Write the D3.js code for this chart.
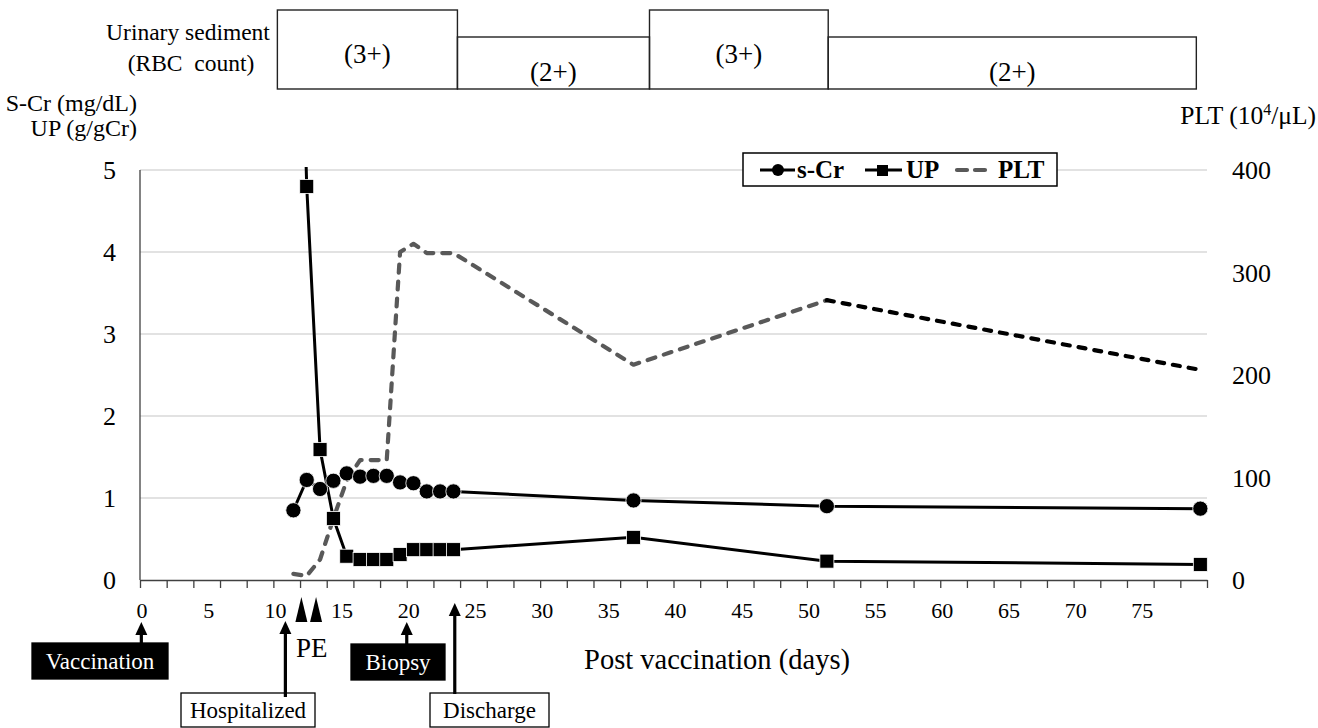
<!DOCTYPE html>
<html><head><meta charset="utf-8">
<script src="https://cdn.jsdelivr.net/npm/d3@7"></script>
<style>
body{margin:0;background:#fff}
svg{display:block}
text{font-family:"Liberation Serif","Times New Roman",serif;fill:#000}
</style>
</head><body>
<svg id="chart" width="1318" height="728"></svg>
<script>
// ---------------- data ----------------
const days   = [11.5,12.5,13.5,14.5,15.5,16.5,17.5,18.5,19.5,20.5,21.5,22.5,23.5,37,51.5,79.5];
const sCr    = [0.85,1.22,1.11,1.21,1.30,1.26,1.27,1.27,1.19,1.18,1.08,1.08,1.08,0.97,0.90,0.87];
const up     = [10.5,4.80,1.59,0.75,0.29,0.25,0.25,0.25,0.31,0.37,0.37,0.37,0.37,0.52,0.23,0.19];
const plt    = [6,4,20,60,97,117,117,117,320,328,319,319,319,210,273,205];

const leftTicks  = [0,1,2,3,4,5];
const rightTicks = [0,100,200,300,400];
const xLabelTicks = d3.range(0,76,5);
const xMinorTicks = d3.range(0,81,2);

const sedStart = [10.3,23.8,38.2,51.6];
const sedEnd   = [23.8,38.2,51.6,79.2];
const sedGrade = ["(3+)","(2+)","(3+)","(2+)"];

const eventNames = ["Vaccination","Hospitalized","Biopsy","Discharge"];
const eventDays  = [0.1,10.9,20.0,23.6];
const peDays     = [12.1,13.2];

// ---------------- layout ----------------
const svg = d3.select("#chart");
const X0 = 140, X1 = 1207, Y0 = 580, Y1 = 170;
const x  = d3.scaleLinear().domain([0,80]).range([X0,X1]);
const yL = d3.scaleLinear().domain([0,5]).range([Y0,Y1]);
const yR = d3.scaleLinear().domain([0,400]).range([Y0,Y1]);

// grid
svg.append("g").selectAll("line").data(leftTicks.filter(d=>d>0)).join("line")
  .attr("x1",X0).attr("x2",X1).attr("y1",d=>yL(d)).attr("y2",d=>yL(d))
  .attr("stroke","#d9d9d9").attr("stroke-width",1.3);

// left axis line
svg.append("line").attr("x1",X0).attr("x2",X0).attr("y1",Y1).attr("y2",Y0)
  .attr("stroke","#404040").attr("stroke-width",1.3);

// x axis (minor ticks every 2 days)
const xAxis = svg.append("g").attr("transform",`translate(0,${Y0})`)
  .call(d3.axisBottom(x).tickValues(xMinorTicks).tickSize(8).tickSizeOuter(0).tickFormat(""));
xAxis.selectAll("path,line").attr("stroke","#404040").attr("stroke-width",1.3);

// x labels
svg.append("g").selectAll("text").data(xLabelTicks).join("text")
  .attr("x",d=>x(d)+2).attr("y",618).attr("text-anchor","middle")
  .style("font-size","22px").text(d=>d);

// left labels
svg.append("g").selectAll("text").data(leftTicks).join("text")
  .attr("x",116).attr("y",d=>yL(d)+9).attr("text-anchor","end")
  .style("font-size","26px").text(d=>d);
// right labels
svg.append("g").selectAll("text").data(rightTicks).join("text")
  .attr("x",1232).attr("y",d=>yR(d)+9).attr("text-anchor","start")
  .style("font-size","26px").text(d=>d);

// axis titles
svg.append("text").attr("x",137).attr("y",111).attr("text-anchor","end").style("font-size","24px").text("S-Cr (mg/dL)");
svg.append("text").attr("x",137).attr("y",136).attr("text-anchor","end").style("font-size","24px").text("UP (g/gCr)");
const pltT = svg.append("text").attr("x",1316).attr("y",124).attr("text-anchor","end").style("font-size","25.5px");
pltT.append("tspan").text("PLT (10");
pltT.append("tspan").attr("dy",-9).style("font-size","16px").text("4");
pltT.append("tspan").attr("dy",9).text("/μL)");
svg.append("text").attr("x",717).attr("y",669).attr("text-anchor","middle").style("font-size","28.5px").text("Post vaccination (days)");

// ---------------- series ----------------
svg.append("defs").append("clipPath").attr("id","plot")
  .append("rect").attr("x",X0-12).attr("y",Y1-3).attr("width",X1-X0+24).attr("height",Y0-Y1+20);
const g = svg.append("g").attr("clip-path","url(#plot)");

const pltPts = days.map((d,i)=>[x(d),yR(plt[i])]);
g.append("path").attr("d",d3.line()(pltPts.slice(0,15)))
  .attr("fill","none").attr("stroke","#595959").attr("stroke-width",4.2)
  .attr("stroke-dasharray","8,9").attr("stroke-linecap","round").attr("stroke-linejoin","round");
g.append("path").attr("d",d3.line()(pltPts.slice(14)))
  .attr("fill","none").attr("stroke","#000").attr("stroke-width",4.2)
  .attr("stroke-dasharray","7,9").attr("stroke-linecap","round");

const upPts = days.map((d,i)=>[x(d),yL(up[i])]);
g.append("path").attr("d",d3.line()(upPts)).attr("fill","none").attr("stroke","#000").attr("stroke-width",3);
const crPts = days.map((d,i)=>[x(d),yL(sCr[i])]);
g.append("path").attr("d",d3.line()(crPts)).attr("fill","none").attr("stroke","#000").attr("stroke-width",3);

g.selectAll("rect.up").data(upPts).join("rect").attr("class","up")
  .attr("x",d=>d[0]-7).attr("y",d=>d[1]-7).attr("width",14).attr("height",14)
  .attr("fill","#000").attr("stroke","#fff").attr("stroke-width",0.8);
g.selectAll("circle.cr").data(crPts).join("circle").attr("class","cr")
  .attr("cx",d=>d[0]).attr("cy",d=>d[1]).attr("r",7.6)
  .attr("fill","#000").attr("stroke","#fff").attr("stroke-width",0.8);

// ---------------- legend ----------------
const lg = svg.append("g");
lg.append("rect").attr("x",743).attr("y",153).attr("width",314).attr("height",33)
  .attr("fill","#fff").attr("stroke","#000").attr("stroke-width",1.5);
lg.append("line").attr("x1",760).attr("x2",795).attr("y1",170).attr("y2",170).attr("stroke","#000").attr("stroke-width",3);
lg.append("circle").attr("cx",778).attr("cy",170).attr("r",6).attr("fill","#000");
lg.append("text").attr("x",797).attr("y",178).style("font-size","25px").style("font-weight","bold").text("s-Cr");
lg.append("line").attr("x1",865).attr("x2",902).attr("y1",170).attr("y2",170).attr("stroke","#000").attr("stroke-width",3);
lg.append("rect").attr("x",877).attr("y",165).attr("width",11).attr("height",11).attr("fill","#000");
lg.append("text").attr("x",906).attr("y",178).style("font-size","25px").style("font-weight","bold").text("UP");
lg.append("line").attr("x1",957).attr("x2",988).attr("y1",170).attr("y2",170).attr("stroke","#595959")
  .attr("stroke-width",4.2).attr("stroke-dasharray","10,8").attr("stroke-linecap","round");
lg.append("text").attr("x",998).attr("y",178).style("font-size","25px").style("font-weight","bold").text("PLT");

// ---------------- urinary sediment ----------------
const gradeTop = d3.scaleOrdinal().domain(["(3+)","(2+)"]).range([10,37]);
const sg = svg.append("g");
sedGrade.forEach((gr,i)=>{
  const xa = x(sedStart[i]), xb = x(sedEnd[i]), top = gradeTop(gr);
  sg.append("rect").attr("x",xa).attr("y",top).attr("width",xb-xa).attr("height",89-top)
    .attr("fill","none").attr("stroke","#222").attr("stroke-width",1.4);
  sg.append("text").attr("x",(xa+xb)/2).attr("y",gr==="(3+)"?63:81).attr("text-anchor","middle")
    .style("font-size","27px").text(gr);
});
svg.append("text").attr("x",188).attr("y",40).attr("text-anchor","middle").style("font-size","23.5px").text("Urinary sediment");
svg.append("text").attr("x",191).attr("y",71).attr("text-anchor","middle").style("font-size","23.5px").text("(RBC\u00A0 count)");

// ---------------- events ----------------
function arrow(px, tip, bottom){
  svg.append("line").attr("x1",px).attr("x2",px).attr("y1",bottom).attr("y2",tip+10)
    .attr("stroke","#000").attr("stroke-width",3.2);
  svg.append("path").attr("d",`M${px},${tip} L${px-6},${tip+13} L${px+6},${tip+13} Z`).attr("fill","#000");
}
const ev = [
  {bx:32, by:643, bw:136, bh:36, dark:true,  tip:622, bottom:643},
  {bx:181,by:693, bw:134, bh:34, dark:false, tip:621, bottom:697},
  {bx:351,by:644, bw:94,  bh:36, dark:true,  tip:622, bottom:644},
  {bx:430,by:693, bw:119, bh:34, dark:false, tip:603, bottom:694}
];
eventNames.forEach((n,i)=>{
  const e = ev[i];
  svg.append("rect").attr("x",e.bx).attr("y",e.by).attr("width",e.bw).attr("height",e.bh)
    .attr("fill",e.dark?"#000":"#fff").attr("stroke","#000").attr("stroke-width",1.3);
  svg.append("text").attr("x",e.bx+e.bw/2).attr("y",e.by+e.bh/2+8).attr("text-anchor","middle")
    .style("font-size","23px").style("fill",e.dark?"#fff":"#000").text(n);
  arrow(x(eventDays[i]), e.tip, e.bottom);
});
peDays.forEach(d=>{
  const px = x(d);
  svg.append("path").attr("d",`M${px},597 L${px-6},622 L${px+6},622 Z`).attr("fill","#000");
});
svg.append("text").attr("x",296).attr("y",657).style("font-size","27px").text("PE");
</script>
</body></html>
